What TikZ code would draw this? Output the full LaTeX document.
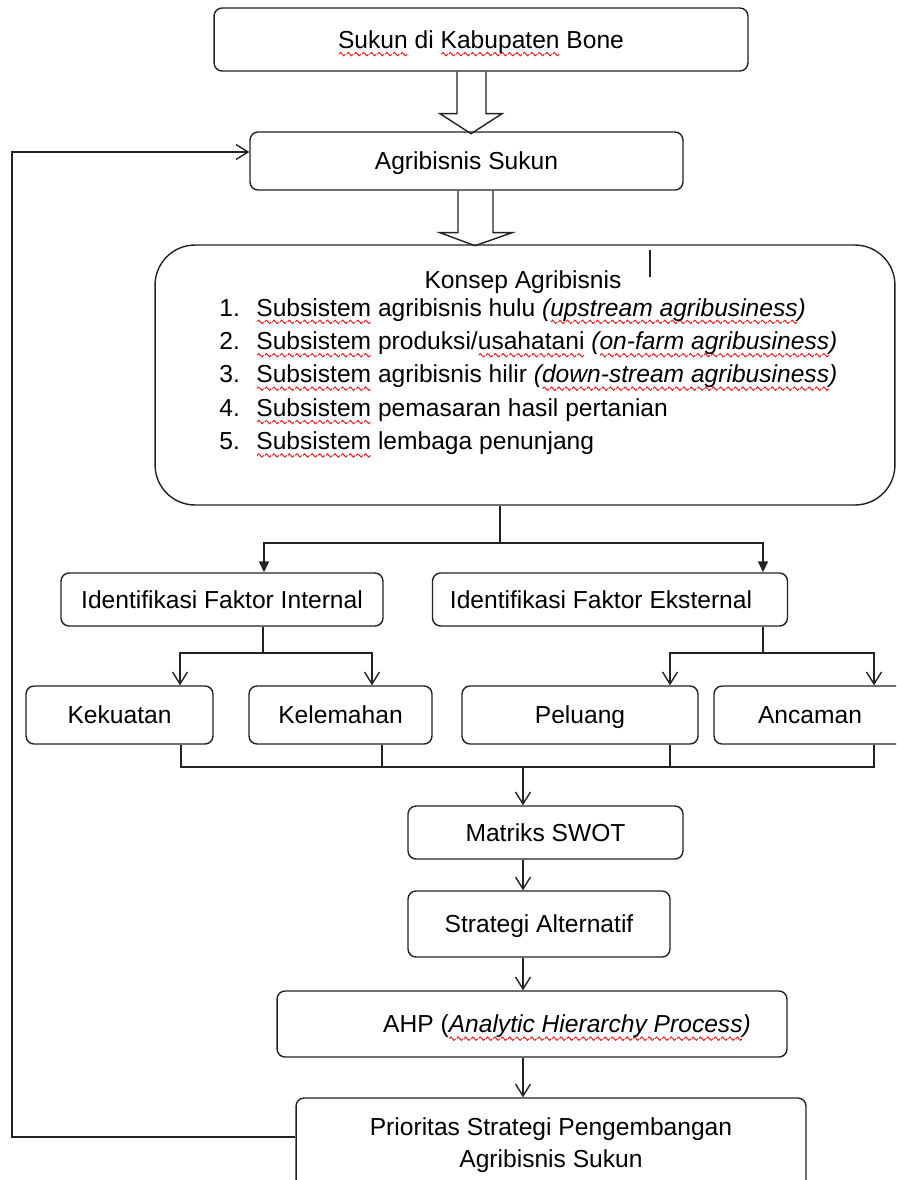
\documentclass[tikz,border=0pt]{standalone}
\usepackage{fontspec}
\setmainfont{Liberation Sans}
\usetikzlibrary{arrows.meta}
\definecolor{inkline}{RGB}{35,35,35}
\definecolor{squig}{RGB}{225,30,30}

% red wavy underline (spell-check marks)
\newsavebox\wavebox
\newsavebox\spellbox
\AtBeginDocument{\sbox\wavebox{\color{squig}\begin{pgfpicture}
    \pgfsetlinewidth{0.55pt}\pgfsetroundjoin
    \pgfpathmoveto{\pgfpoint{0pt}{0pt}}
    \pgfpathlineto{\pgfpoint{0.9pt}{1pt}}
    \pgfpathlineto{\pgfpoint{2.7pt}{-1pt}}
    \pgfpathlineto{\pgfpoint{3.6pt}{0pt}}
    \pgfusepath{stroke}
    \pgfpathrectangle{\pgfpoint{0pt}{-1.2pt}}{\pgfpoint{3.6pt}{2.4pt}}
    \pgfusepath{use as bounding box}
  \end{pgfpicture}}}
\newcommand\spell[1]{\sbox\spellbox{#1}\rlap{\raisebox{-4.6pt}[0pt][0pt]{\xleaders\hbox{\usebox\wavebox}\hskip\wd\spellbox}}\usebox\spellbox}

\begin{document}
\begin{tikzpicture}[x=0.02cm,y=-0.02cm,
    box/.style={draw=inkline,line width=0.8pt,rounded corners=0.16cm,inner sep=0pt,
      font=\fontsize{14}{18.2}\selectfont,align=center},
    single/.style={box,text height=10pt,text depth=0pt},
    plain/.style={font=\fontsize{14}{18.2}\selectfont,inner sep=0pt},
    link/.style={draw=inkline,line width=0.8pt},
    vee/.style={link,-{Straight Barb[length=0.24cm,width=0.3cm]}},
    tri/.style={link,-{Triangle[length=0.22cm,width=0.2cm]}},
    hollow/.style={draw=inkline,line width=0.8pt,line join=miter}]

  % --- canvas ---
  \clip (0,0) rectangle (896,1180);
  \fill[white] (0,0) rectangle (896,1180);

  % --- top chain ---
  \node[single,minimum width=10.68cm,minimum height=1.26cm] (sukun) at (481,39.5)
    {\spell{Sukun} di \spell{Kabupaten} Bone};
  \node[single,minimum width=8.66cm,minimum height=1.16cm] (agri) at (466.5,161)
    {Agribisnis Sukun};
  \node[box,rounded corners=0.8cm,minimum width=14.8cm,minimum height=5.2cm] (konsep) at (525,375) {};

  % block arrows
  \draw[hollow] ([xshift=-0.48cm]sukun.south) -- ++(0,42) -- ++(-17,0) -- ++(31,20)
    -- ++(31,-20) -- ++(-16,0) -- ++(0,-42);
  \draw[hollow] ([xshift=-0.17cm]agri.south) -- ++(0,42) -- ++(-18,0) -- ++(35,13)
    -- ++(37,-13) -- ++(-19,0) -- ++(0,-42);

  % --- konsep agribisnis ---
  \node[plain,anchor=base] (ktitle) at (523,288) {Konsep Agribisnis};
  \foreach \n/\t [count=\i] in {
    1/{\spell{Subsistem} agribisnis hulu \textit{(\spell{upstream agribusiness})}},
    2/{\spell{Subsistem} produksi/\spell{usahatani} \textit{(\spell{on-farm agribusiness})}},
    3/{\spell{Subsistem} agribisnis hilir \textit{(\spell{down-stream agribusiness})}},
    4/{\spell{Subsistem} pemasaran hasil pertanian},
    5/{\spell{Subsistem} lembaga penunjang}
  }{
    \node[plain,anchor=base west] (num\i) at (219,{316+33.4*(\i-1)}) {\n.};
    \node[plain,anchor=base west] (item\i) at (256,{316+33.4*(\i-1)}) {\t};
  }
  \draw[inkline,line width=0.6pt] (650,250) -- (650,277);

  % --- factors ---
  \node[single,minimum width=6.44cm,minimum height=1.06cm] (internal) at (222,599.5)
    {Identifikasi Faktor Internal};
  \node[single,minimum width=7.1cm,minimum height=1.06cm] (eksternal) at (610,599.5)
    {Identifikasi Faktor Eksternal\hspace*{0.36cm}};

  \node[single,minimum width=3.74cm,minimum height=1.16cm] (kekuatan) at (119.5,715) {Kekuatan};
  \node[single,minimum width=3.66cm,minimum height=1.16cm] (kelemahan) at (340.5,715) {Kelemahan};
  \node[single,minimum width=4.72cm,minimum height=1.16cm] (peluang) at (580,715) {Peluang};
  \node[single,minimum width=3.84cm,minimum height=1.16cm] (ancaman) at (810,715) {Ancaman};

  % --- analysis chain ---
  \node[single,minimum width=5.5cm,minimum height=1.06cm] (swot) at (545.5,832.5) {Matriks SWOT};
  \node[single,minimum width=5.24cm,minimum height=1.32cm] (strategi) at (539,924) {Strategi Alternatif};
  \node[single,minimum width=10.2cm,minimum height=1.32cm] (ahp) at (532,1024)
    {\hspace*{1.4cm}AHP (\textit{\spell{Analytic Hierarchy Process})}};
  \node[box,minimum width=10.2cm,minimum height=1.88cm] (prioritas) at (551,1145)
    {Prioritas Strategi Pengembangan\\Agribisnis Sukun};

  % --- branch points ---
  \coordinate (k0) at (500,543);
  \coordinate (ia) at (264,543);
  \coordinate (ea) at (763,543);
  \coordinate (i0) at (263,653);
  \coordinate (e0) at (763,653);
  \coordinate (ka) at (180,653);
  \coordinate (la) at (372,653);
  \coordinate (pa) at (670,653);
  \coordinate (aa) at (874,653);
  \coordinate (m0) at (523,767);
  \coordinate (m1) at (181,767);
  \coordinate (m2) at (382,767);
  \coordinate (m3) at (670,767);
  \coordinate (m4) at (874,767);
  \coordinate (fbb) at (12,1137);
  \coordinate (fbt) at (12,152);

  % konsep -> faktor
  \draw[link] (konsep.south -| k0) -- (k0);
  \draw[tri] (k0) -| (ia |- internal.north);
  \draw[tri] (k0) -| (ea |- eksternal.north);

  % faktor -> SWOT elements
  \draw[link] (internal.south -| i0) -- (i0);
  \draw[vee] (i0) -| (ka |- kekuatan.north);
  \draw[vee] (i0) -| (la |- kelemahan.north);
  \draw[link] (eksternal.south -| e0) -- (e0);
  \draw[vee] (e0) -| (pa |- peluang.north);
  \draw[vee] (e0) -| (aa |- ancaman.north);

  % merge into matriks
  \draw[link] (m1 |- kekuatan.south) -- (m1) -- (m4) -- (m4 |- ancaman.south);
  \draw[link] (m2 |- kelemahan.south) -- (m2);
  \draw[link] (m3 |- peluang.south) -- (m3);
  \draw[vee] (m0) -- (m0 |- swot.north);

  % down the chain
  \draw[vee] (m0 |- swot.south) -- (m0 |- strategi.north);
  \draw[vee] (m0 |- strategi.south) -- (m0 |- ahp.north);
  \draw[vee] (m0 |- ahp.south) -- (m0 |- prioritas.north);

  % feedback loop
  \draw[vee] (prioritas.west |- fbb) -- (fbb) -- (fbt) -- (fbt -| agri.west);

\end{tikzpicture}
\end{document}
